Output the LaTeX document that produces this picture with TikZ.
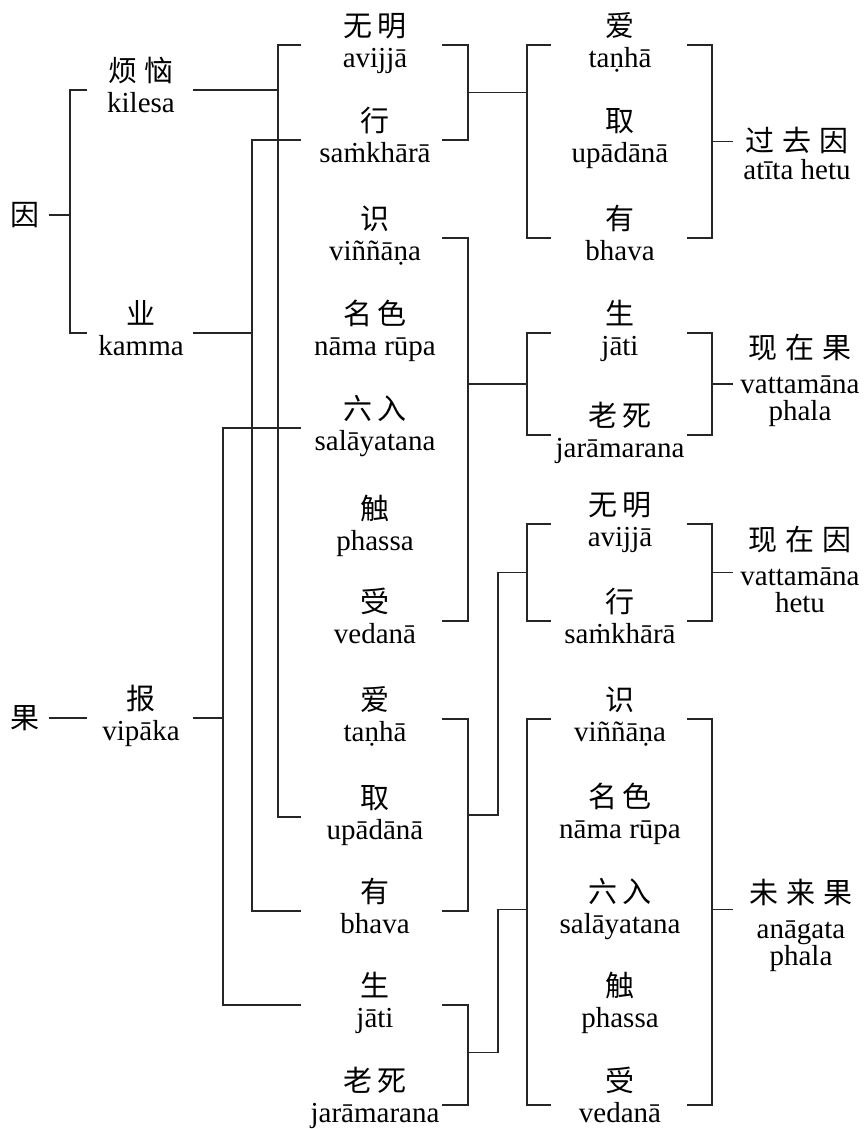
\documentclass[tikz,border=0pt]{standalone}
\usepackage{fontspec}
\setmainfont{Liberation Serif}
\newfontfamily\cjk{Noto Sans CJK SC}
% sizes of the two scripts
\newcommand\termsize{\fontsize{29}{31}\selectfont}
\newcommand\periodsize{\fontsize{29}{27}\selectfont}
% a Chinese line with a fixed strut, a Pali line with a fixed depth
\newcommand\zh[1]{{\cjk\rule{0pt}{25.5pt}#1}}
\newcommand\pali[1]{\rule[-15pt]{0pt}{15pt}#1}
\newcommand\pair[2]{\zh{#1}\\\rule[-11.3pt]{0pt}{11.3pt}#2}
% the bottom row sits a little higher over its bracket line
\newcommand\lowpair[2]{\zh{#1}\\\rule[-22.5pt]{0pt}{22.5pt}#2}
\newcommand\cg{\hspace{5pt}}
\newcommand\eg{\hspace{8pt}}

\begin{document}
\begin{tikzpicture}[x=1pt,y=-1pt,
  term/.style={align=center, inner sep=0pt, font=\termsize},
  sumterm/.style={align=center, inner sep=0pt, font=\periodsize},
  link/.style={line width=1.1pt, draw=black!85}]

\useasboundingbox (0,0) rectangle (864,1129);

% column positions of the bracket lines
\coordinate (xB)  at (70,0);
\coordinate (xBl) at (87,0);
\coordinate (xBr) at (193,0);
\coordinate (xV)  at (223,0);
\coordinate (xM)  at (252,0);
\coordinate (xK)  at (278,0);
\coordinate (xCl) at (301,0);
\coordinate (xCr) at (442,0);
\coordinate (xCR) at (468,0);
\coordinate (xJ)  at (498,0);
\coordinate (xDL) at (527,0);
\coordinate (xDl) at (551,0);
\coordinate (xDr) at (687,0);
\coordinate (xDR) at (712,0);
\coordinate (xE)  at (733,0);

% cause and effect
\node[term] (yin) at (25,215) {{\cjk 因}};
\node[term] (guo) at (25,718) {{\cjk 果}};

% defilement, action, result
\node[term] (b1) at (141,90)  {\pair{烦\hspace{8pt}恼}{kilesa}};
\node[term] (b2) at (141,333) {\pair{业}{kamma}};
\node[term] (b3) at (141,718) {\pair{报}{vipāka}};

% the twelve links
\node[term] (c1)  at (375,45)   {\pair{无\cg 明}{avijjā}};
\node[term] (c2)  at (375,140)  {\pair{行}{saṁkhārā}};
\node[term] (c3)  at (375,238)  {\pair{识}{viññāṇa}};
\node[term] (c4)  at (375,333)  {\pair{名\cg 色}{nāma rūpa}};
\node[term] (c5)  at (375,428)  {\pair{六\cg 入}{salāyatana}};
\node[term] (c6)  at (375,528)  {\pair{触}{phassa}};
\node[term] (c7)  at (375,621)  {\pair{受}{vedanā}};
\node[term] (c8)  at (375,719)  {\pair{爱}{taṇhā}};
\node[term] (c9)  at (375,817)  {\pair{取}{upādānā}};
\node[term] (c10) at (375,911)  {\pair{有}{bhava}};
\node[term] (c11) at (375,1005) {\pair{生}{jāti}};
\node[term] (c12) at (375,1105) {\lowpair{老\cg 死}{jarāmarana}};

% the links regrouped by period
\node[term] (d1)  at (620,45)   {\pair{爱}{taṇhā}};
\node[term] (d2)  at (620,140)  {\pair{取}{upādānā}};
\node[term] (d3)  at (620,238)  {\pair{有}{bhava}};
\node[term] (d4)  at (620,333)  {\pair{生}{jāti}};
\node[term] (d5)  at (620,435)  {\pair{老\cg 死}{jarāmarana}};
\node[term] (d6)  at (620,524)  {\pair{无\cg 明}{avijjā}};
\node[term] (d7)  at (620,621)  {\pair{行}{saṁkhārā}};
\node[term] (d8)  at (620,719)  {\pair{识}{viññāṇa}};
\node[term] (d9)  at (620,816)  {\pair{名\cg 色}{nāma rūpa}};
\node[term] (d10) at (620,911)  {\pair{六\cg 入}{salāyatana}};
\node[term] (d11) at (620,1005) {\pair{触}{phassa}};
\node[term] (d12) at (620,1105) {\lowpair{受}{vedanā}};

% the four periods
\node[sumterm] (e1) at (797,160) {\zh{过\eg 去\eg 因}\\[1pt]\pali{atīta hetu}};
\node[sumterm] (e2) at (800,384) {\zh{现\eg 在\eg 果}\\[8pt]vattamāna\\\pali{phala}};
\node[sumterm] (e3) at (800,576) {\zh{现\eg 在\eg 因}\\[8pt]vattamāna\\\pali{hetu}};
\node[sumterm] (e4) at (801,929) {\zh{未\eg 来\eg 果}\\[8pt]anāgata\\\pali{phala}};

% bracket midpoints
\path (c1) -- (c2)  coordinate[midway] (mc1);
\path (c8) -- (c10) coordinate[midway] (mc3);
\path (c11) -- (c12) coordinate[midway] (mc4);
\path (d1) -- (d3)  coordinate[midway] (md1);
\path (d4) -- (d5)  coordinate[midway] (md2);
\path (d6) -- (d7)  coordinate[midway] (md3);
\path (d8) -- (d12) coordinate[midway] (md4);

% cause: defilement and action
\draw[link] ([xshift=9pt]yin.east) -- (xB |- yin);
\draw[link] (xBl |- b1) -- (xB |- b1) -- (xB |- b2) -- (xBl |- b2);
% effect: result
\draw[link] ([xshift=9pt]guo.east) -- (xBl |- guo);

% defilement -> ignorance, clinging
\draw[link] (xBr |- b1) -- (xK |- b1);
\draw[link] (xCl |- c1) -- (xK |- c1) -- (xK |- c9) -- (xCl |- c9);
% action -> formations, becoming
\draw[link] (xBr |- b2) -- (xM |- b2);
\draw[link] (xCl |- c2) -- (xM |- c2) -- (xM |- c10) -- (xCl |- c10);
% result -> six bases, birth
\draw[link] (xBr |- b3) -- (xV |- b3);
\draw[link] (xCl |- c5) -- (xV |- c5) -- (xV |- c11) -- (xCl |- c11);

% right brackets of the twelve links
\draw[link] (xCr |- c1)  -- (xCR |- c1)  -- (xCR |- c2)  -- (xCr |- c2);
\draw[link] (xCr |- c3)  -- (xCR |- c3)  -- (xCR |- c7)  -- (xCr |- c7);
\draw[link] (xCr |- c8)  -- (xCR |- c8)  -- (xCR |- c10) -- (xCr |- c10);
\draw[link] (xCr |- c11) -- (xCR |- c11) -- (xCR |- c12) -- (xCr |- c12);

% brackets of the regrouped links
\foreach \t/\b in {d1/d3, d4/d5, d6/d7, d8/d12}{
  \draw[link] (xDl |- \t) -- (xDL |- \t) -- (xDL |- \b) -- (xDl |- \b);
  \draw[link] (xDr |- \t) -- (xDR |- \t) -- (xDR |- \b) -- (xDr |- \b);
}

% group to group
\draw[link] (xCR |- mc1) -- (xDL |- mc1);
\draw[link] (xCR |- md2) -- (xDL |- md2);
\draw[link] (xCR |- mc3) -| (xJ |- md3) -- (xDL |- md3);
\draw[link] (xCR |- mc4) -| (xJ |- md4) -- (xDL |- md4);

% groups to periods
\draw[link] (xDR |- md1) -- (xE |- md1);
\draw[link] (xDR |- md2) -- (xE |- md2);
\draw[link] (xDR |- md3) -- (xE |- md3);
\draw[link] (xDR |- md4) -- (xE |- md4);
\end{tikzpicture}
\end{document}
